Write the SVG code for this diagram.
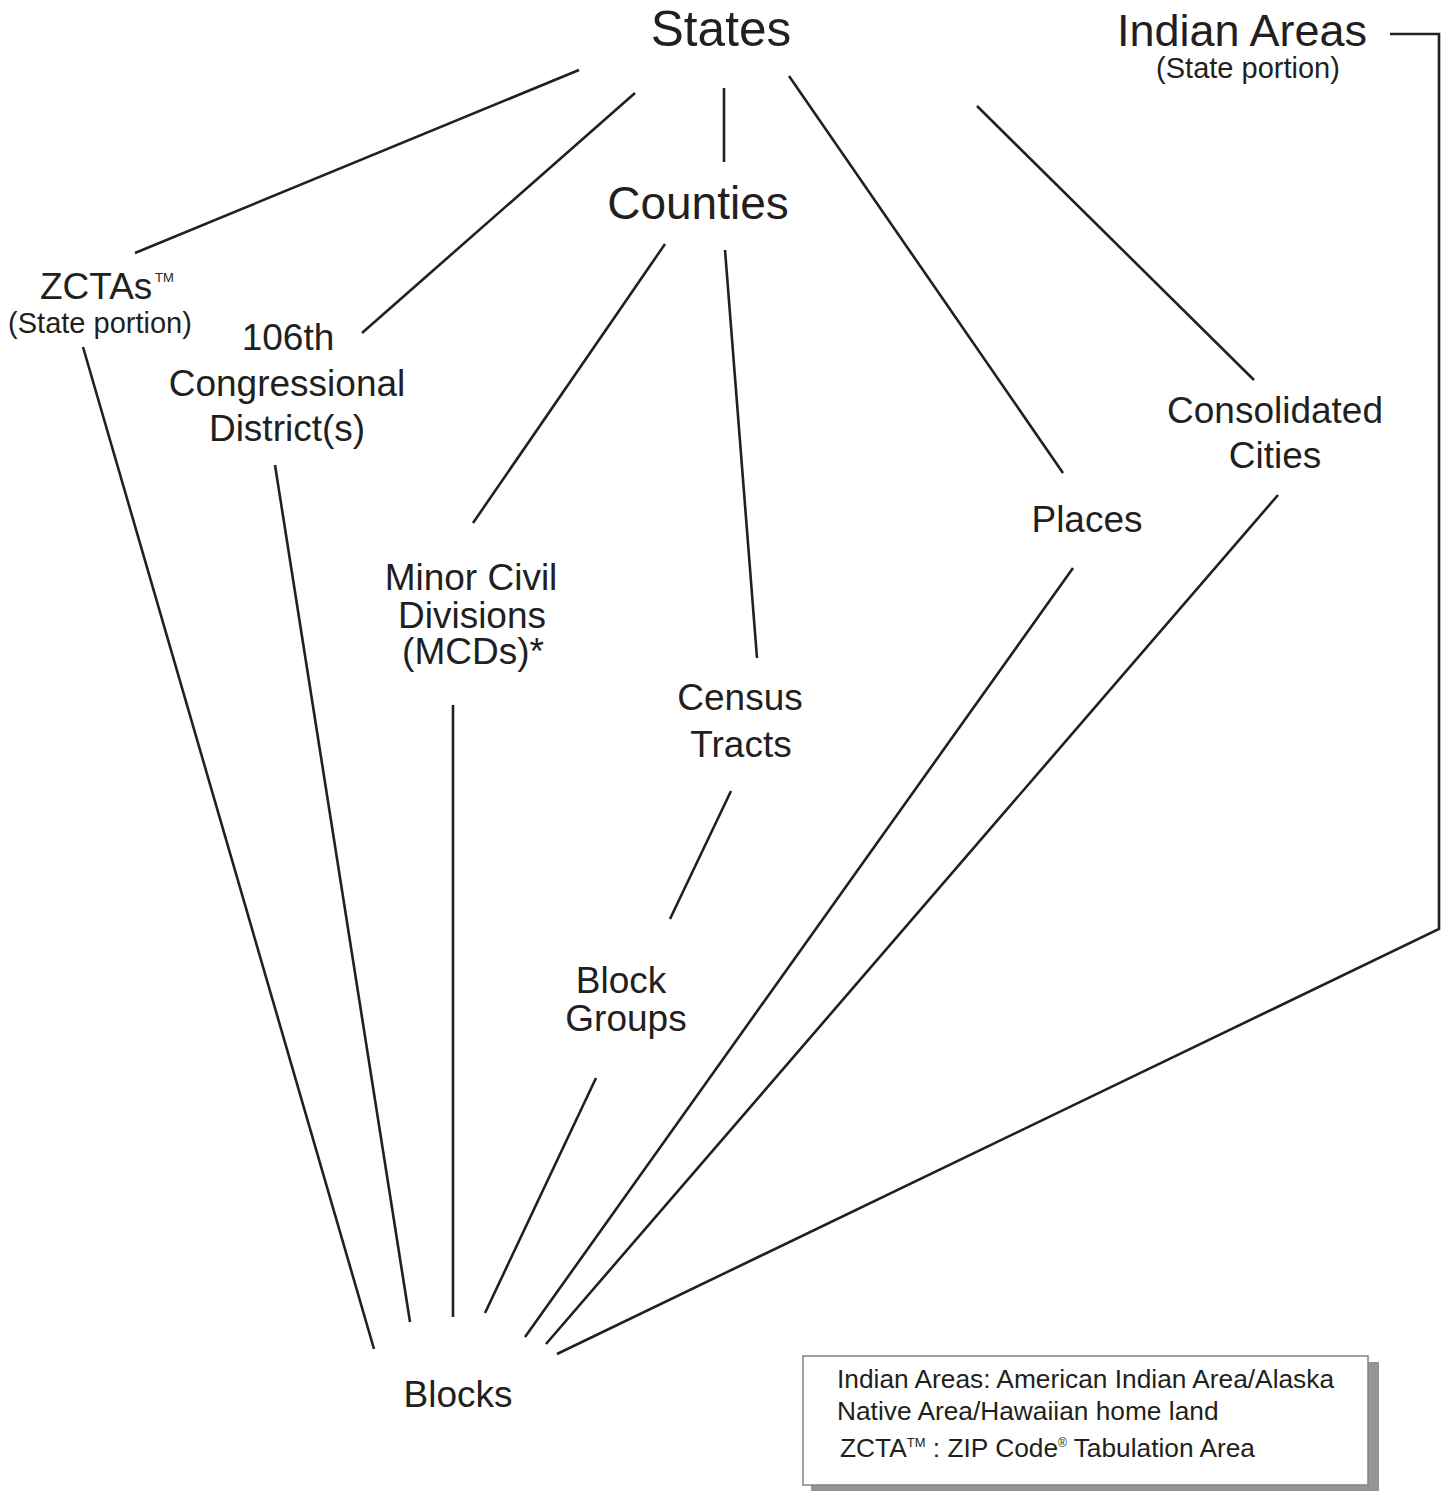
<svg xmlns="http://www.w3.org/2000/svg" width="1448" height="1491" viewBox="0 0 1448 1491">
<style>
text{font-family:"Liberation Sans",Arial,Helvetica,sans-serif;fill:#231f20}
.m{font-size:37px;text-anchor:middle}
.s{font-size:29px;text-anchor:middle}
.l{font-size:26.3px}
.c line,.c polyline{stroke:#231f20;stroke-width:2.6;fill:none}
</style>
<rect width="1448" height="1491" fill="#fff"/>
<g id="connectors" class="c">
<line x1="579" y1="70" x2="135" y2="253"/>
<line x1="635" y1="93" x2="362" y2="333"/>
<line x1="724" y1="88" x2="724" y2="162"/>
<line x1="789" y1="76" x2="1063" y2="473"/>
<line x1="977" y1="106" x2="1254" y2="380"/>
<line x1="665" y1="244" x2="473" y2="523"/>
<line x1="725" y1="250" x2="757" y2="658"/>
<line x1="83" y1="347" x2="374" y2="1349"/>
<line x1="275" y1="465" x2="410" y2="1322"/>
<line x1="453" y1="705" x2="453" y2="1317"/>
<line x1="731" y1="791" x2="670" y2="919"/>
<line x1="596" y1="1078" x2="485" y2="1313"/>
<line x1="1073" y1="568" x2="525" y2="1337"/>
<line x1="1278" y1="495" x2="546" y2="1344"/>
<polyline points="1390,34 1439,34 1439,929 557,1354"/>
</g>
<g id="states"><text class="m" x="721" y="46" style="font-size:49.5px">States</text></g>
<g id="indian-areas">
<text class="m" x="1242" y="46" style="font-size:45px">Indian Areas</text>
<text class="s" x="1248" y="78">(State portion)</text>
</g>
<g id="counties"><text class="m" x="698" y="219" style="font-size:46px">Counties</text></g>
<g id="zctas">
<text x="40" y="299" style="font-size:37px">ZCTAs</text>
<text x="155" y="282" style="font-size:13px">TM</text>
<text class="s" x="100" y="333">(State portion)</text>
</g>
<g id="congressional">
<text class="m" x="288" y="350">106th</text>
<text class="m" x="287" y="396">Congressional</text>
<text class="m" x="287" y="441">District(s)</text>
</g>
<g id="mcds">
<text class="m" x="471" y="590">Minor Civil</text>
<text class="m" x="472" y="628">Divisions</text>
<text class="m" x="473" y="664">(MCDs)*</text>
</g>
<g id="tracts">
<text class="m" x="740" y="710">Census</text>
<text class="m" x="741" y="757">Tracts</text>
</g>
<g id="places"><text class="m" x="1087" y="532">Places</text></g>
<g id="consolidated">
<text class="m" x="1275" y="423">Consolidated</text>
<text class="m" x="1275" y="468">Cities</text>
</g>
<g id="block-groups">
<text class="m" x="621" y="993">Block</text>
<text class="m" x="626" y="1031">Groups</text>
</g>
<g id="blocks"><text class="m" x="458" y="1407">Blocks</text></g>
<g id="legend">
<rect x="811" y="1362" width="568" height="129" fill="#939598"/>
<rect x="803" y="1356" width="565" height="129" fill="#fff" stroke="#808285" stroke-width="1.5"/>
<text class="l" x="837" y="1388">Indian Areas: American Indian Area/Alaska</text>
<text class="l" x="837" y="1420">Native Area/Hawaiian home land</text>
<text class="l" x="840" y="1457">ZCTA<tspan style="font-size:13px" dy="-10">TM</tspan><tspan dy="10"> : ZIP Code</tspan><tspan style="font-size:12px" dy="-10">®</tspan><tspan dy="10"> Tabulation Area</tspan></text>
</g>
</svg>
